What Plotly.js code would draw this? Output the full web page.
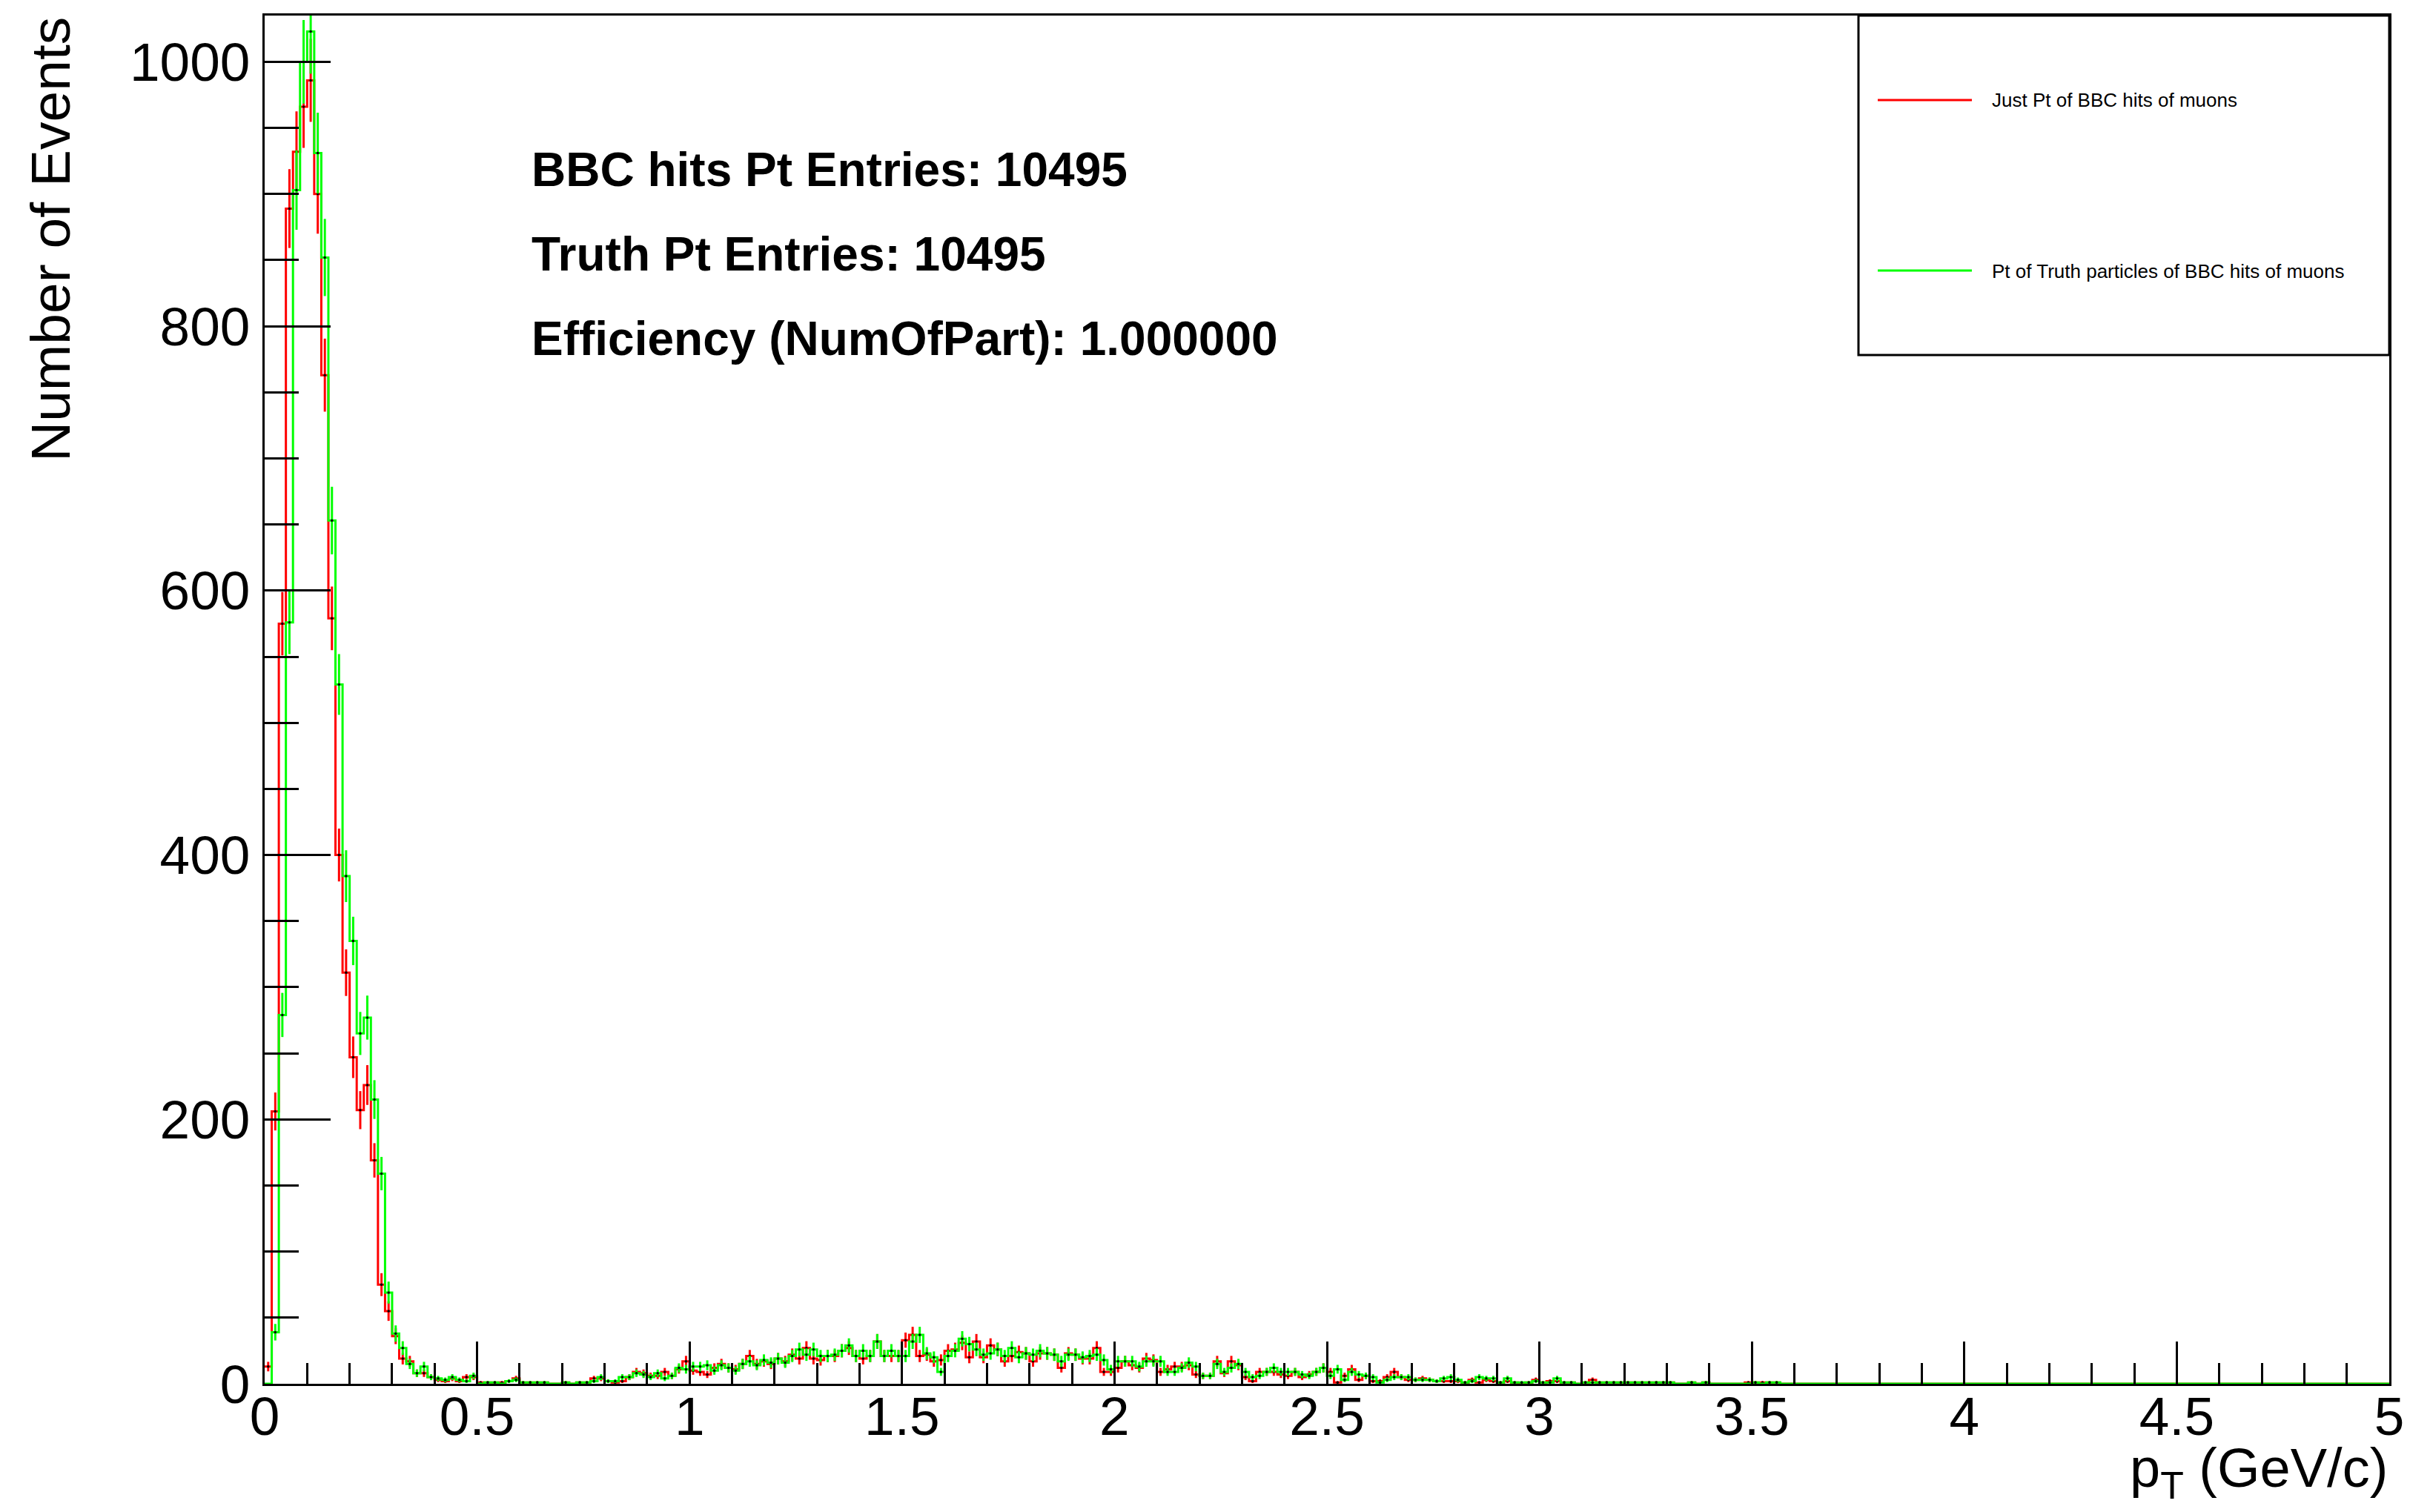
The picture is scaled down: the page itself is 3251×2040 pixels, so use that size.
<!DOCTYPE html>
<html>
<head>
<meta charset="utf-8">
<script src="https://cdn.plot.ly/plotly-3.0.1.min.js"></script>
<style>
  html, body { margin: 0; padding: 0; background: #ffffff; }
  #chart { width: 3251px; height: 2040px; }
</style>
</head>
<body>
<div id="chart"></div>
<script>
// ---- Data (300 bins from 0 to 5 GeV/c) ----
const xMin = 0;
const xMax = 5;
const nBins = 300;

const redName = "Just Pt of BBC hits of muons";
const greenName = "Pt of Truth particles of BBC hits of muons";

const redCounts = [
  13,206,575,889,932,966,986,900,763,579,
  400,311,247,207,226,169,75,55,36,19,
  17,8,8,5,3,2,4,2,5,5,
  1,1,1,1,2,4,1,1,1,1,
  0,0,1,0,1,1,4,4,2,1,
  2,5,9,8,6,6,9,6,11,17,
  10,9,7,12,15,12,11,15,21,15,
  17,15,19,17,22,19,27,19,18,21,
  21,25,27,21,19,21,32,21,21,21,
  33,37,21,22,17,18,25,26,31,20,
  32,20,29,26,17,21,24,23,17,23,
  23,22,12,23,22,19,19,27,9,9,
  12,17,14,12,19,18,9,11,13,13,
  14,7,6,6,17,8,17,14,5,2,
  9,9,9,7,6,9,5,7,9,12,
  9,1,6,11,3,6,2,2,5,9,
  5,3,3,4,3,2,2,2,2,1,
  3,1,3,2,1,2,1,0,1,3,
  1,2,2,1,1,0,1,3,1,1,
  1,1,1,1,1,1,1,1,1,0,
  0,1,0,1,0,0,0,0,0,1,
  1,1,1,1,0,0,0,0,0,0,
  0,0,0,0,0,0,0,0,0,0,
  0,0,0,0,0,0,0,0,0,0,
  0,0,0,0,0,0,0,0,0,0,
  0,0,0,0,0,0,0,0,0,0,
  0,0,0,0,0,0,0,0,0,0,
  0,0,0,0,0,0,0,0,0,0,
  0,0,0,0,0,0,0,0,0,0,
  0,0,0,0,0,0,0,0,0,0
];

const greenCounts = [
  0,39,279,576,903,1000,1023,931,852,653,
  529,384,335,265,277,215,159,69,38,27,
  15,8,13,5,4,3,5,3,2,6,
  0,1,1,0,2,3,1,1,1,1,
  0,0,1,0,1,1,2,5,2,2,
  5,5,8,7,5,8,4,6,12,11,
  13,13,14,10,14,12,10,15,17,14,
  18,16,19,16,21,26,22,26,21,21,
  22,25,29,21,25,21,32,21,25,21,
  21,32,37,23,20,9,21,25,34,30,
  26,22,23,26,21,27,20,23,22,25,
  23,22,17,22,22,20,21,22,18,11,
  17,17,17,13,17,17,17,9,9,12,
  16,13,6,6,15,9,12,15,9,5,
  6,9,12,9,9,9,7,6,9,12,
  6,11,3,9,7,6,5,1,3,5,
  5,5,3,3,3,2,4,5,3,1,
  2,5,4,4,1,4,1,1,1,2,
  1,1,4,1,1,0,1,1,1,1,
  1,1,1,1,1,1,1,1,1,0,
  0,1,0,1,0,0,0,0,0,0,
  1,0,1,1,0,0,0,0,0,0,
  0,0,0,0,0,0,0,0,0,0,
  0,0,0,0,0,0,0,0,0,0,
  0,0,0,0,0,0,0,0,0,0,
  0,0,0,0,0,0,0,0,0,0,
  0,0,0,0,0,0,0,0,0,0,
  0,0,0,0,0,0,0,0,0,0,
  0,0,0,0,0,0,0,0,0,0,
  0,0,0,0,0,0,0,0,0,0
];

const statLines = [
  "BBC hits Pt Entries: 10495",
  "Truth Pt Entries: 10495",
  "Efficiency (NumOfPart): 1.000000"
];
const xTitle = "p<sub>T</sub> (GeV/c)";
const yTitle = "Number of Events";
const yMax = 1035;

// ---- Build traces ----
const binW = (xMax - xMin) / nBins;
const edges = [];
for (let i = 0; i <= nBins; i++) edges.push(xMin + i * binW);
const centers = [];
for (let i = 0; i < nBins; i++) centers.push(xMin + (i + 0.5) * binW);

function stepTrace(counts, color) {
  return {
    type: 'scatter', mode: 'lines',
    x: edges, y: counts.concat([counts[counts.length - 1]]),
    line: { shape: 'hv', color: color, width: 3 },
    hoverinfo: 'skip', showlegend: false
  };
}
function errTrace(counts, color) {
  const xs = [], ys = [], es = [];
  counts.forEach((c, i) => { if (c > 0) { xs.push(centers[i]); ys.push(c); es.push(Math.sqrt(c)); } });
  return {
    type: 'scatter', mode: 'markers',
    x: xs, y: ys,
    error_y: { type: 'data', array: es, visible: true, color: color, thickness: 3, width: 0 },
    marker: { size: 3.5, color: '#000000' },
    hoverinfo: 'skip', showlegend: false
  };
}

const RED = '#ff0000';
const GREEN = '#00ff00';
const traces = [
  stepTrace(redCounts, RED), errTrace(redCounts, RED),
  stepTrace(greenCounts, GREEN), errTrace(greenCounts, GREEN)
];

const FONT = 'Liberation Sans, Arial, Helvetica, sans-serif';
const L = 357, R = 28, T = 21, B = 173;
const plotW = 3251 - L - R, plotH = 2040 - T - B;
const px = (x) => (x - L) / plotW;          // pixel x -> paper
const py = (y) => (2040 - B - y) / plotH;   // pixel y -> paper

const annotations = [
  { text: '<b>' + statLines[0] + '</b>', x: px(715), y: py(229), xanchor: 'left', yanchor: 'middle' },
  { text: '<b>' + statLines[1] + '</b>', x: px(715), y: py(343), xanchor: 'left', yanchor: 'middle' },
  { text: '<b>' + statLines[2] + '</b>', x: px(715), y: py(457), xanchor: 'left', yanchor: 'middle' }
].map(a => Object.assign(a, { xref: 'paper', yref: 'paper', showarrow: false, font: { family: FONT, size: 64, color: '#000' } }));

annotations.push({ text: xTitle, xref: 'paper', yref: 'paper', x: 1.0, y: py(1986), xanchor: 'right', yanchor: 'middle',
  showarrow: false, font: { family: FONT, size: 74, color: '#000' } });
annotations.push({ text: yTitle, xref: 'paper', yref: 'paper', x: px(68), y: 1.0, xanchor: 'center', yanchor: 'top',
  textangle: -90, showarrow: false, font: { family: FONT, size: 75, color: '#000' } });
annotations.push({ text: redName, xref: 'paper', yref: 'paper', x: px(2685), y: py(135), xanchor: 'left', yanchor: 'middle',
  showarrow: false, font: { family: FONT, size: 26, color: '#000' } });
annotations.push({ text: greenName, xref: 'paper', yref: 'paper', x: px(2685), y: py(366), xanchor: 'left', yanchor: 'middle',
  showarrow: false, font: { family: FONT, size: 26, color: '#000' } });

const shapes = [
  { type: 'rect', xref: 'paper', yref: 'paper', x0: px(2507), x1: 1.0, y0: py(479), y1: 1.0,
    line: { color: '#000', width: 3 }, fillcolor: 'rgba(255,255,255,1)' },
  { type: 'line', xref: 'paper', yref: 'paper', x0: px(2533), x1: px(2660), y0: py(135), y1: py(135),
    line: { color: RED, width: 3 } },
  { type: 'line', xref: 'paper', yref: 'paper', x0: px(2533), x1: px(2660), y0: py(365), y1: py(365),
    line: { color: GREEN, width: 3 } }
];

const layout = {
  width: 3251, height: 2040,
  margin: { l: L, r: R, t: T, b: B, pad: 0 },
  paper_bgcolor: '#ffffff', plot_bgcolor: '#ffffff',
  showlegend: false,
  hovermode: false,
  font: { family: FONT, color: '#000' },
  xaxis: {
    range: [xMin, xMax], tick0: 0, dtick: 0.5,
    ticks: 'inside', ticklen: 57, tickwidth: 3, tickcolor: '#000',
    minor: { dtick: 0.1, ticks: 'inside', ticklen: 28, tickwidth: 3, tickcolor: '#000', showgrid: false },
    showgrid: false, zeroline: false,
    showline: true, linecolor: '#000', linewidth: 3, mirror: true,
    tickfont: { family: FONT, size: 73, color: '#000' },
    ticklabelstandoff: -22
  },
  yaxis: {
    range: [0, yMax], tick0: 0, dtick: 200,
    ticks: 'inside', ticklen: 89, tickwidth: 3, tickcolor: '#000',
    minor: { dtick: 50, ticks: 'inside', ticklen: 46, tickwidth: 3, tickcolor: '#000', showgrid: false },
    showgrid: false, zeroline: false,
    showline: true, linecolor: '#000', linewidth: 3, mirror: true,
    tickfont: { family: FONT, size: 73, color: '#000' },
    ticklabelstandoff: 2
  },
  annotations: annotations,
  shapes: shapes
};

Plotly.newPlot('chart', traces, layout, { displayModeBar: false, staticPlot: true });
</script>
</body>
</html>
